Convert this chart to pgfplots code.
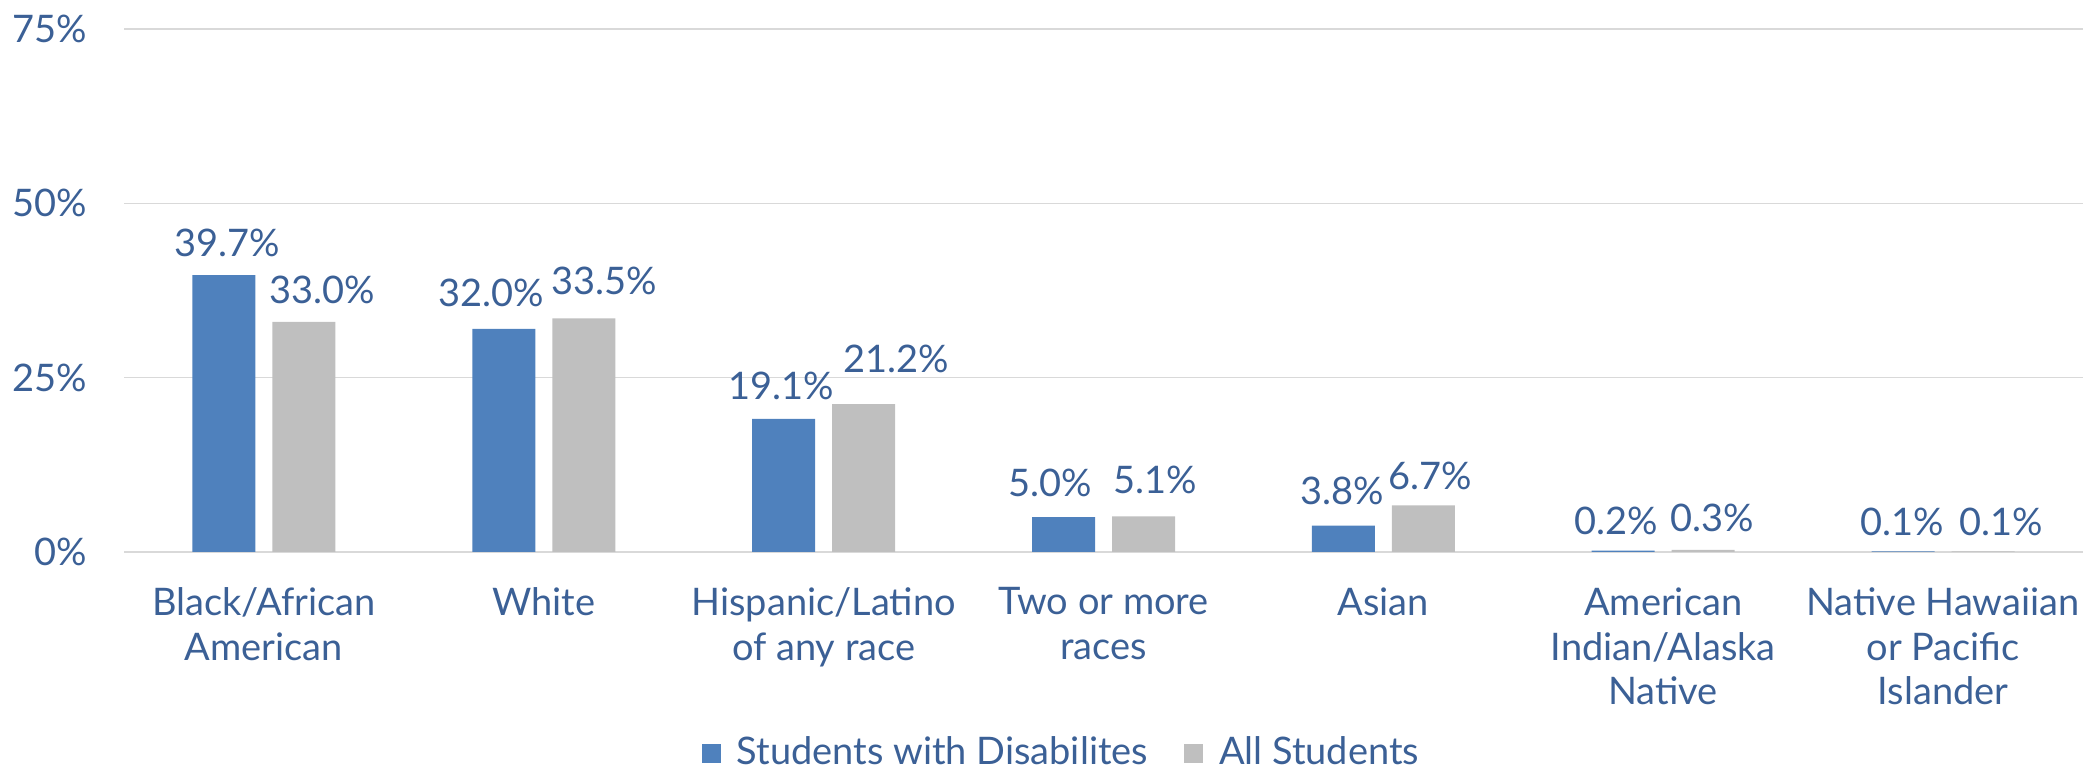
\documentclass[border=0pt]{standalone}
\usepackage{fontspec}
\setmainfont{Lato}
\usepackage{pgfplots}
\pgfplotsset{compat=1.18}

\definecolor{swd}{RGB}{79,129,189}
\definecolor{allst}{RGB}{191,191,191}
\definecolor{txt}{RGB}{59,96,150}
\definecolor{gridc}{RGB}{217,217,217}

% x, value, label shift (dx) and gap above the bar (dy), in px of the 2087 px picture
\pgfplotstableread{
x y dx dy
0 39.7 3 18
1 32.0 -13 21
2 19.1 -2 18
3 5.0 -13 20
4 3.8 -1 20
5 0.2 -7 15
6 0.1 -1 15
}\swdtab
\pgfplotstableread{
x y dx dy
0 33.0 18 17
1 33.5 20 23
2 21.2 33 31
3 5.1 12 22
4 6.7 7 15
5 0.3 9 17
6 0.1 18 15
}\alltab

\begin{document}
\begin{tikzpicture}[font=\fontsize{10.8}{12.7}\selectfont, text=txt]
  % picture frame: 1px = 0.01cm, plot origin at (124,552) px
  \useasboundingbox (-1.24,-2.19) rectangle (19.63,5.52);
  \begin{axis}[
      at={(0,0)}, anchor=south west,
      scale only axis,
      width=19.59cm, height=5.23cm,
      ybar=0.17cm, bar width=0.63cm,
      xmin=-0.5, xmax=6.5,
      ymin=0, ymax=75,
      xtick={0,1,2,3,4,5,6},
      xticklabels={{Black/African\\American}, White, {Hispanic/Latino\\of any race},
        {Two or more\\races}, Asian, {American\\Indian/Alaska\\Native},
        {Native Hawaiian\\or Pacific\\Islander}},
      ytick={0,25,50,75},
      yticklabels={0\%,25\%,50\%,75\%},
      major tick length=0pt,
      axis line style={draw=none},
      ymajorgrids,
      grid style={draw=gridc, line width=0.45pt},
      xticklabel style={align=center, inner sep=0pt, anchor=north, yshift=-0.35cm, text=txt},
      yticklabel style={inner sep=0pt, anchor=east, xshift=-0.36cm, text=txt},
      nodes near coords={\pgfmathprintnumber[fixed,fixed zerofill,precision=1,assume math mode=true]{\pgfplotspointmeta}\%},
      nodes near coords style={inner sep=0pt, anchor=south, text=txt,
        xshift=\dx*0.01cm, yshift=\dy*0.01cm},
      legend columns=2,
      legend style={at={(0.478,0)}, anchor=center, yshift=-2.01cm, draw=none,
        fill=none, nodes={inner sep=0pt, text=txt},
        /tikz/every odd column/.append style={column sep=0.16cm},
        /tikz/every even column/.append style={column sep=0.36cm}},
      legend image code/.code={\fill[#1] (0cm,-0.095cm) rectangle (0.19cm,0.095cm);},
    ]
    \addplot[fill=swd, draw=none,
      visualization depends on={\thisrow{dx} \as \dx},
      visualization depends on={\thisrow{dy} \as \dy}]
      table[x=x, y=y] {\swdtab};
    \addlegendentry{Students with Disabilites}
    \addplot[fill=allst, draw=none,
      visualization depends on={\thisrow{dx} \as \dx},
      visualization depends on={\thisrow{dy} \as \dy}]
      table[x=x, y=y] {\alltab};
    \addlegendentry{All Students}
  \end{axis}
\end{tikzpicture}
\end{document}
